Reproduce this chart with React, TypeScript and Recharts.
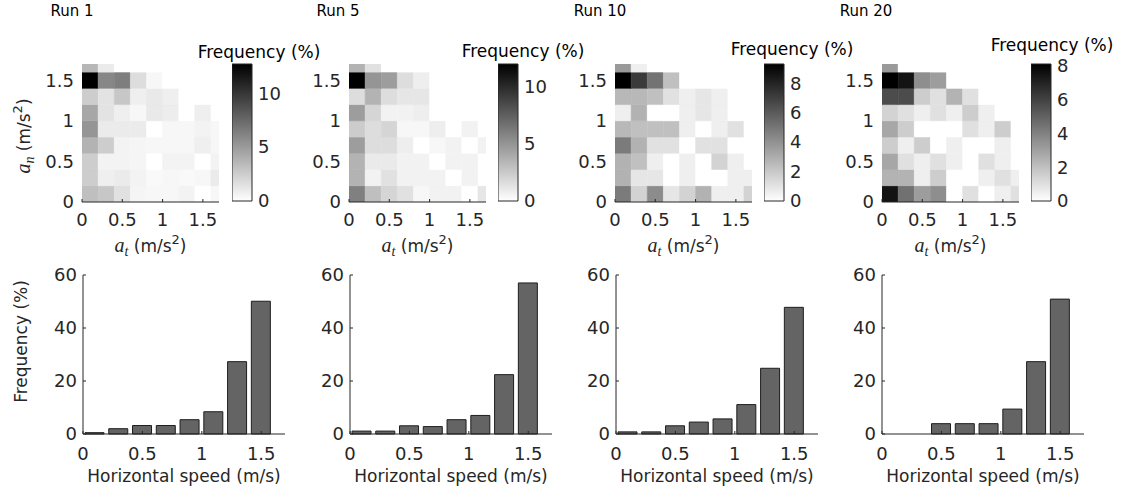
import React from "react";
import { ScatterChart, Scatter, BarChart, Bar, XAxis, YAxis, ReferenceArea } from "recharts";

const FONT = "'DejaVu Sans', sans-serif";
const MATH = "'Liberation Serif', serif";
const INK = "#262626";

const RUNS = ["Run 1", "Run 5", "Run 10", "Run 20"];

// acceleration bins (left / bottom edges), 0.2 wide, axis cut at 1.7
const ACC_BINS = [0, 0.2, 0.4, 0.6, 0.8, 1.0, 1.2, 1.4, 1.6];
const ACC_BIN = 0.2;
const ACC_MAX = 1.7;
const ACC_TICKS = [0, 0.5, 1, 1.5];

// frequency (%) per cell, rows from a_n = 0 upwards, columns a_t = 0 → 1.6
const RUN1_GRID = [
  [3.2, 2.8, 1.5, 0.5, 0.4, 0.4, 0.6, 0, 0.4],
  [2.5, 0.8, 1.0, 0.6, 0.3, 0.4, 0.3, 0.4, 1.0],
  [2.5, 0.6, 0.6, 0.5, 0, 0.6, 0.6, 0, 0.6],
  [3.8, 2.5, 0.6, 0.5, 0.4, 0.4, 0.4, 0.8, 0.4],
  [5.3, 1.0, 1.0, 1.0, 0, 0.4, 0.4, 0.6, 0.4],
  [4.4, 1.4, 0.8, 0.4, 1.1, 0.9, 0, 0.8, 0],
  [2.5, 1.4, 2.8, 0.8, 1.1, 0.8, 0, 0, 0],
  [12.7, 6.0, 6.4, 1.7, 0.4, 0, 0, 0, 0],
  [3.6, 1.0, 0, 0, 0, 0, 0, 0, 0],
];
const RUN5_GRID = [
  [6.0, 3.0, 2.0, 1.4, 0.4, 0.6, 0.6, 0, 1.2],
  [3.6, 0.6, 1.4, 0.6, 0.6, 0.6, 0, 0.6, 0],
  [3.6, 1.0, 1.0, 0.6, 0.6, 0, 0.6, 0.6, 0],
  [4.6, 1.6, 1.6, 0.8, 0, 0.4, 0.6, 0, 0.6],
  [2.4, 1.6, 2.0, 0.4, 0.4, 0.8, 0, 0.6, 0],
  [4.6, 2.0, 0.6, 0.6, 0.8, 0, 0, 0, 0],
  [1.6, 3.6, 1.6, 1.2, 1.2, 0, 0, 0, 0],
  [12.0, 5.0, 4.6, 1.6, 0.8, 0, 0, 0, 0],
  [3.6, 1.4, 0, 0, 0, 0, 0, 0, 0],
];
const RUN10_GRID = [
  [4.8, 1.6, 4.2, 0.9, 1.6, 2.8, 0.6, 0.6, 1.6],
  [2.8, 0.9, 0.9, 0, 0.6, 0, 0, 0.6, 0.6],
  [2.8, 2.3, 0.6, 0, 0.6, 0, 1.6, 0.6, 0],
  [4.8, 2.8, 1.1, 1.1, 0, 1.1, 1.1, 0, 0],
  [2.6, 2.3, 2.3, 2.3, 0.6, 0, 0.6, 1.1, 0],
  [0.6, 2.8, 0, 0, 0.6, 0.9, 0.6, 0, 0],
  [2.6, 2.6, 2.3, 1.1, 0.6, 0.9, 0.6, 0, 0],
  [9.3, 7.2, 5.1, 2.3, 0, 0, 0, 0, 0],
  [3.7, 0.6, 0, 0, 0, 0, 0, 0, 0],
];
const RUN20_GRID = [
  [7.5, 4.5, 3.1, 3.6, 0, 1.0, 0, 0.5, 1.0],
  [2.4, 2.4, 0.5, 1.6, 0, 0, 0.5, 1.0, 0.5],
  [2.8, 1.0, 0.5, 1.0, 0.5, 0, 1.0, 0.5, 0],
  [1.6, 0.5, 1.6, 0, 0.5, 0, 0, 0.5, 0],
  [2.8, 1.6, 0, 0, 0, 1.0, 0.5, 1.6, 0],
  [1.4, 1.0, 0.5, 1.0, 0.5, 1.6, 0.5, 0, 0],
  [5.7, 5.7, 1.6, 1.0, 2.4, 1.0, 0, 0, 0],
  [8.1, 7.5, 3.6, 3.1, 0, 0, 0, 0, 0],
  [3.2, 0, 0, 0, 0, 0, 0, 0, 0],
];
const GRIDS = [RUN1_GRID, RUN5_GRID, RUN10_GRID, RUN20_GRID];
const COLOR_MAX = [12.7, 12.0, 9.3, 8.1];
const COLOR_TICKS = [[0, 5, 10], [0, 5, 10], [0, 2, 4, 6, 8], [0, 2, 4, 6, 8]];

// horizontal speed histogram
const SPEED_BINS = [0.1, 0.3, 0.5, 0.7, 0.9, 1.1, 1.3, 1.5];
const RUN1_SPEED = [0.5, 2.0, 3.2, 3.2, 5.4, 8.4, 27.3, 50.1];
const RUN5_SPEED = [1.1, 1.1, 3.1, 2.8, 5.4, 7.0, 22.4, 57.0];
const RUN10_SPEED = [0.8, 0.8, 3.1, 4.5, 5.7, 11.1, 24.8, 47.8];
const RUN20_SPEED = [0, 0, 3.9, 3.9, 3.9, 9.4, 27.3, 50.9];
const SPEEDS = [RUN1_SPEED, RUN5_SPEED, RUN10_SPEED, RUN20_SPEED];
const FREQ_TICKS = [0, 20, 40, 60];

// page layout (plot left edges etc.)
const MAP_X = [82, 349, 615, 882];
const CBAR_X = [232, 498, 764, 1031];
const HIST_X = [83, 350, 616, 882];
const TITLE_X = [72, 338, 600, 866];
const CBAR_LABEL = [[259, 58], [523, 57], [792, 55], [1052, 51]];

const tickStyle = { fill: INK, fontSize: 18, fontFamily: FONT };

const gray = (v: number, max: number) => {
  const g = Math.round(255 * (1 - Math.min(v / max, 1)));
  return `rgb(${g},${g},${g})`;
};

function AccLabel({ viewBox, sub, vertical }: any) {
  const { x, y, width, height } = viewBox;
  const tx = vertical ? x + 28 : x + width / 2;
  const ty = vertical ? y + height / 2 + 3 : y + 50;
  return (
    <text
      x={tx}
      y={ty}
      textAnchor="middle"
      fill={INK}
      fontSize={17}
      fontFamily={FONT}
      transform={vertical ? `rotate(-90 ${tx} ${ty})` : undefined}
    >
      <tspan fontFamily={MATH} fontStyle="italic" fontSize={20}>a</tspan>
      <tspan fontFamily={MATH} fontStyle="italic" fontSize={14} dy={4}>{sub}</tspan>
      <tspan dy={-4}> (m/s</tspan>
      <tspan fontSize={13} dy={-8}>2</tspan>
      <tspan dy={8}>)</tspan>
    </text>
  );
}

function Heatmap({ idx }: { idx: number }) {
  const grid = GRIDS[idx];
  const cmax = COLOR_MAX[idx];
  const cells: { x: number; y: number; v: number }[] = [];
  grid.forEach((row, r) => row.forEach((v, c) => cells.push({ x: ACC_BINS[c], y: ACC_BINS[r], v })));
  return (
    <div style={{ position: "absolute", left: MAP_X[idx] - 80, top: 20 }}>
      <ScatterChart width={222} height={244} margin={{ top: 44, right: 5, bottom: 0, left: 0 }}>
        {cells.map((c, i) => (
          <ReferenceArea
            key={i}
            x1={c.x}
            x2={c.x + ACC_BIN}
            y1={c.y}
            y2={c.y + ACC_BIN}
            fill={gray(c.v, cmax)}
            fillOpacity={1}
            stroke={gray(c.v, cmax)}
            strokeWidth={0.5}
            ifOverflow="hidden"
          />
        ))}
        <XAxis
          type="number"
          dataKey="x"
          domain={[0, ACC_MAX]}
          ticks={ACC_TICKS}
          allowDataOverflow
          height={62}
          stroke={INK}
          tickSize={-3}
          tickMargin={14}
          tick={tickStyle}
          label={<AccLabel sub="t" />}
        />
        <YAxis
          type="number"
          dataKey="y"
          domain={[0, ACC_MAX]}
          ticks={ACC_TICKS}
          allowDataOverflow
          width={80}
          axisLine={false}
          tickLine={false}
          tickSize={0}
          tickMargin={8}
          tick={tickStyle}
          label={idx === 0 ? <AccLabel sub="n" vertical /> : undefined}
        />
        <Scatter data={cells} isAnimationActive={false} shape={() => <g />} />
      </ScatterChart>
    </div>
  );
}

function ColorBar({ idx }: { idx: number }) {
  const id = `cbar-grad-${idx}`;
  return (
    <div style={{ position: "absolute", left: CBAR_X[idx], top: 20 }}>
      <BarChart
        width={60}
        height={200}
        data={[{ name: "c", v: COLOR_MAX[idx] }]}
        margin={{ top: 44, right: 0, bottom: 19, left: 0 }}
        barCategoryGap={0}
      >
        <defs>
          <linearGradient id={id} x1="0" y1="0" x2="0" y2="1">
            <stop offset="0" stopColor="#000" />
            <stop offset="1" stopColor="#fff" />
          </linearGradient>
        </defs>
        <XAxis dataKey="name" hide height={0} />
        <YAxis
          orientation="right"
          width={40}
          domain={[0, COLOR_MAX[idx]]}
          ticks={COLOR_TICKS[idx]}
          axisLine={false}
          tickLine={false}
          tickSize={0}
          tickMargin={6}
          tick={tickStyle}
        />
        <Bar dataKey="v" fill={`url(#${id})`} stroke={INK} isAnimationActive={false} />
      </BarChart>
    </div>
  );
}

function Histogram({ idx }: { idx: number }) {
  const data = SPEED_BINS.map((s, i) => ({ speed: s, freq: SPEEDS[idx][i] }));
  return (
    <div style={{ position: "absolute", left: HIST_X[idx] - 80, top: 255 }}>
      <BarChart width={287} height={236} data={data} margin={{ top: 20, right: 5, bottom: 0, left: 0 }} barSize={19}>
        <XAxis
          type="number"
          dataKey="speed"
          domain={[0, ACC_MAX]}
          ticks={ACC_TICKS}
          height={57}
          stroke={INK}
          tickSize={-3}
          tickMargin={16}
          tick={tickStyle}
          label={{ value: "Horizontal speed (m/s)", position: "insideBottom", offset: 9, fill: INK, fontSize: 17, fontFamily: FONT }}
        />
        <YAxis
          domain={[0, 60]}
          ticks={FREQ_TICKS}
          width={80}
          stroke={INK}
          tickSize={-3}
          tickMargin={9}
          tick={tickStyle}
          label={
            idx === 0
              ? { value: "Frequency (%)", angle: -90, position: "insideLeft", offset: 18, dy: -13, fill: INK, fontSize: 17, fontFamily: FONT, textAnchor: "middle" }
              : undefined
          }
        />
        <Bar dataKey="freq" fill="#646464" stroke="#1e1e1e" isAnimationActive={false} />
      </BarChart>
    </div>
  );
}

export default function App() {
  return (
    <div style={{ position: "absolute", left: 0, top: 0, width: 1125, height: 491, background: "#fff", fontFamily: FONT }}>
      <svg width={1125} height={491} style={{ position: "absolute", left: 0, top: 0, pointerEvents: "none" }}>
        {RUNS.map((r, i) => (
          <text key={r} x={TITLE_X[i]} y={16} textAnchor="middle" fill="#000" fontSize={15} fontFamily={FONT}>
            {r}
          </text>
        ))}
        {CBAR_LABEL.map(([x, y], i) => (
          <text key={i} x={x} y={y} textAnchor="middle" fill="#000" fontSize={17} fontFamily={FONT}>
            Frequency (%)
          </text>
        ))}
      </svg>
      {RUNS.map((_, i) => (
        <React.Fragment key={i}>
          <Heatmap idx={i} />
          <ColorBar idx={i} />
          <Histogram idx={i} />
        </React.Fragment>
      ))}
    </div>
  );
}
